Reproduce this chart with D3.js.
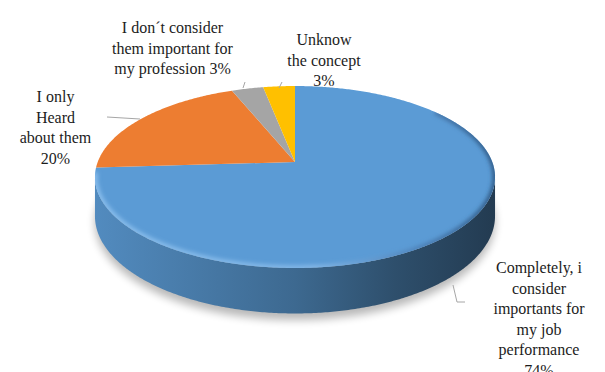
<!DOCTYPE html>
<html>
<head>
<meta charset="utf-8">
<script src="https://cdn.jsdelivr.net/npm/d3@7"></script>
<style>
  html, body { margin: 0; padding: 0; background: #ffffff; }
  svg { display: block; }
  .lbl { font-family: "Liberation Serif", "DejaVu Serif", "Noto Serif", "Times New Roman", Times, serif; }
</style>
</head>
<body>
<svg id="chart" width="605" height="372"></svg>
<script>
// Survey answers, in drawing order (clockwise from 12 o'clock)
const categories = [
  "Completely, i consider importants for my job performance",
  "I only Heard about them",
  "I don´t consider them important for my profession",
  "Unknow the concept"
];
const values = [74, 20, 3, 3];
const colors = ["#5b9bd5", "#ed7d31", "#a5a5a5", "#ffc000"];
// label text broken into lines; the percentage is appended inline or on its own line
const labelLines = [
  ["Completely, i", "consider", "importants for", "my job", "performance"],
  ["I only", "Heard", "about them"],
  ["I don´t consider", "them important for", "my profession"],
  ["Unknow", "the concept"]
];
const pctInline = [false, false, true, false];

const svg = d3.select("#chart");
const defs = svg.append("defs");

// perspective disc: pie centre, radii, foreshortening and thickness
const cx = 295, cy = 162, ax = 197.3, by = 88.5, persp = 0.1648, depth = 38;

function proj(theta, r, drop) {
  const u = Math.sin(theta) * r, v = -Math.cos(theta) * r;
  const w = 1 - persp * v;
  return [cx + ax * u / w, cy + by * v / w + (drop || 0) / w];
}

const pie = d3.pie().sort(null).value(d => d)(values);
const line = d3.line();

function arcPoints(a0, a1, drop) {
  const n = Math.max(2, Math.ceil((a1 - a0) / 0.01));
  return d3.range(n + 1).map(i => proj(a0 + (a1 - a0) * i / n, 1, drop));
}

// filters
const blur4 = defs.append("filter").attr("id", "shadowBlur")
  .attr("x", "-20%").attr("y", "-20%").attr("width", "140%").attr("height", "140%");
blur4.append("feGaussianBlur").attr("stdDeviation", 4);
const blurRim = defs.append("filter").attr("id", "rimBlur")
  .attr("x", "-20%").attr("y", "-20%").attr("width", "140%").attr("height", "140%");
blurRim.append("feGaussianBlur").attr("stdDeviation", 2.2);

// visible front arc of the rim: where the silhouette is widest
const thR = Math.acos(-persp), thL = 2 * Math.PI - thR;

// soft drop shadow under the disc
svg.append("path")
  .attr("d", line(arcPoints(thR - 0.35, thL + 0.35, depth + 3).map(p => [p[0], p[1] + 3])) + "Z")
  .attr("fill", "#000").attr("opacity", 0.28)
  .attr("filter", "url(#shadowBlur)");

// outer side walls of the slices facing the viewer
pie.forEach((d, i) => {
  const s = Math.max(d.startAngle, thR), e = Math.min(d.endAngle, thL);
  if (s >= e) return;
  const base = d3.color(colors[i]);
  const gid = "side" + i;
  const g = defs.append("linearGradient").attr("id", gid)
    .attr("gradientUnits", "userSpaceOnUse")
    .attr("x1", cx - ax * 1.014).attr("x2", cx + ax * 1.014).attr("y1", 0).attr("y2", 0);
  [[0, 0.3], [0.5, 1.1], [0.75, 1.9], [1, 2.7]].forEach(([o, k]) =>
    g.append("stop").attr("offset", o).attr("stop-color", base.darker(k).formatHex()));
  const top = arcPoints(s, e, 0);
  const bottom = arcPoints(s, e, depth).reverse();
  svg.append("path")
    .attr("d", line(top.concat(bottom)) + "Z")
    .attr("fill", `url(#${gid})`);
});

// top face slices
const topG = svg.append("g");
pie.forEach((d, i) => {
  const pts = [proj(0, 0)].concat(arcPoints(d.startAngle, d.endAngle, 0));
  topG.append("path")
    .attr("d", line(pts) + "Z")
    .attr("fill", colors[i]);
});

// bevelled rim on the top face: light along the front, darker towards the right
const clip = defs.append("clipPath").attr("id", "topClip");
clip.append("path").attr("d", line(arcPoints(0, 2 * Math.PI, 0)) + "Z");
const rimGrad = defs.append("linearGradient").attr("id", "rimGrad")
  .attr("gradientUnits", "userSpaceOnUse")
  .attr("x1", cx - ax).attr("x2", cx + ax).attr("y1", 0).attr("y2", 0);
[[0, "#8cc0ee"], [0.55, "#86b9e8"], [0.8, "#4f83ba"], [1, "#2f5883"]].forEach(([o, c]) =>
  rimGrad.append("stop").attr("offset", o).attr("stop-color", c));
const blueSlice = pie[0];
svg.append("g").attr("clip-path", "url(#topClip)")
  .append("path")
  .attr("d", line(arcPoints(blueSlice.startAngle + 0.9, thL + 0.05, 0)))
  .attr("fill", "none")
  .attr("stroke", "url(#rimGrad)")
  .attr("stroke-width", 5)
  .attr("filter", "url(#rimBlur)");

// leader lines
const leaders = [
  [[453, 285], [457, 302], [465, 302]],
  [[107, 117], [140, 119]],
  [[243, 88], [245, 82]],
  [[279, 88], [282, 82]]
];
svg.append("g").selectAll("path").data(leaders).join("path")
  .attr("d", d => line(d))
  .attr("fill", "none").attr("stroke", "#a6a6a6").attr("stroke-width", 1);

// data labels
const labelPos = [[539, 273], [55.5, 102], [172.5, 33], [324, 45]];
const lineGap = 20.5;
labelLines.forEach((lines, i) => {
  const pct = values[i] + "%";
  const rows = pctInline[i]
    ? lines.slice(0, -1).concat([lines[lines.length - 1] + " " + pct])
    : lines.concat([pct]);
  const t = svg.append("text")
    .attr("class", "lbl")
    .attr("x", labelPos[i][0]).attr("y", labelPos[i][1])
    .attr("text-anchor", "middle")
    .style("font-size", "16px")
    .style("fill", "#1c1c1c");
  rows.forEach((r, j) => {
    t.append("tspan").attr("x", labelPos[i][0]).attr("y", labelPos[i][1] + j * lineGap).text(r);
  });
});
</script>
</body>
</html>
